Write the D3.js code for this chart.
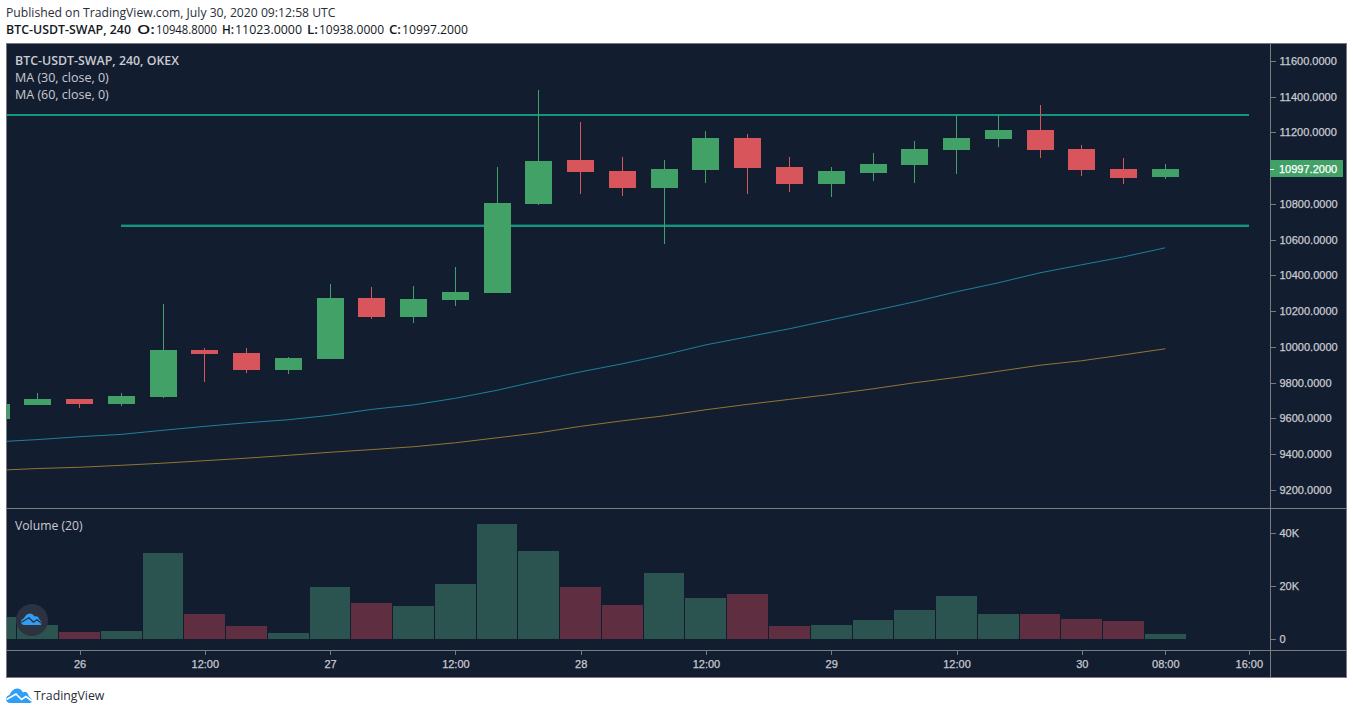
<!DOCTYPE html>
<html><head><meta charset="utf-8">
<script src="https://cdn.jsdelivr.net/npm/d3@7"></script>
<style>
html,body{margin:0;padding:0;background:#fff;overflow:hidden}
text{font-family:"Liberation Sans",Arial,sans-serif}
.ui{font-family:"Open Sans",sans-serif}
</style></head><body>
<script>
// ---- data ----
const open_ = [9597,9675,9709,9681,9720,9983,9966,9871,9933,10274,10168,10263,10302,10800,11046,10985,10889,10990,11169,11007,10912,10973,11018,11102,11164,11214,11108,10996,10948.8];
const high_ = [9681,9743,9709,9743,10241,9994,9994,9944,10352,10336,10341,10448,11007,11438,11259,11063,11046,11208,11192,11063,11007,11085,11152,11298,11298,11354,11130,11057,11023];
const low_  = [9597,9675,9659,9670,9711,9804,9855,9849,9933,10157,10134,10229,10302,10794,10856,10845,10576,10917,10856,10867,10839,10929,10917,10968,11119,11057,10957,10912,10938];
const close_= [9681,9709,9681,9726,9983,9961,9871,9938,10274,10168,10268,10308,10806,11041,10979,10889,10996,11169,11001,10912,10985,11024,11108,11169,11214,11102,10990,10945,10997.2];
const volume= [8300,5300,2640,3000,32450,9430,4900,2260,19600,13600,12450,20750,43400,33200,19600,12800,24900,15470,17000,4900,5300,7170,10940,16200,9430,9430,7550,6800,1890];
const ma30  = [9468,9481,9497,9510,9533,9555,9575,9592,9617,9650,9675,9712,9757,9810,9860,9905,9955,10011,10056,10101,10151,10201,10252,10308,10358,10414,10459,10503,10554];
const ma60  = [9309,9319,9326,9337,9349,9363,9377,9393,9410,9425,9441,9463,9491,9519,9555,9586,9614,9648,9678,9706,9734,9765,9799,9829,9863,9897,9922,9955,9989];
const priceTicks = [9200,9400,9600,9800,10000,10200,10400,10600,10800,11200,11400,11600];
const volumeTicks = [0,20000,40000];
const timeTickBars = [2,5,8,11,14,17,20,23,26,28,30];
const timeTickLabels = ["26","12:00","27","12:00","28","12:00","29","12:00","30","08:00","16:00"];
const levelLines = [{price:11298,from:0,to:30,halo:false},{price:10678,from:3,to:30,halo:true}];
const lastPrice = 10997.2;
const headerLine1 = "Published on TradingView.com, July 30, 2020 09:12:58 UTC";
const headerTitle = "BTC-USDT-SWAP, 240";
const legendLines = ["BTC-USDT-SWAP, 240, OKEX","MA (30, close, 0)","MA (60, close, 0)"];

// ---- style ----
const BG="#131d30",FRAME="#787b80",TXT="#c9cbd0",UP="#41a166",DOWN="#d8555b",UPV="#2b5451",DOWNV="#5f2f41",LEVEL="#13967d";

const svg=d3.select("body").append("svg").attr("width",1353).attr("height",714).style("display","block");
const L=7,R=1270,RR=1346,T=44,SEP=508,AX=650,B=677;
svg.append("rect").attr("x",L-.5).attr("y",T-.5).attr("width",RR-L+1).attr("height",B-T+1).attr("fill",BG).attr("stroke",FRAME);

const x=d3.scaleLinear().domain([0,28]).range([-3.96,1165.32]);
const y=d3.scaleLinear().domain([9200,11600]).range([489.8,60.8]);
const yv=d3.scaleLinear().domain([0,40000]).range([639,533]);

const defs=svg.append("defs");
defs.append("clipPath").attr("id","main").append("rect").attr("x",L).attr("y",T).attr("width",R-L).attr("height",SEP-T);
defs.append("clipPath").attr("id","vol").append("rect").attr("x",L).attr("y",SEP).attr("width",R-L).attr("height",AX-SEP);

// volume
const idx=d3.range(close_.length);
const isUp=i=>close_[i]>=open_[i];
const vLeft=i=>Math.floor(x(i)-20);
svg.append("g").attr("clip-path","url(#vol)").attr("shape-rendering","crispEdges")
 .selectAll("rect").data(idx).join("rect")
 .attr("x",vLeft).attr("width",i=>vLeft(i+1)-vLeft(i)-1)
 .attr("y",i=>Math.round(yv(volume[i]))).attr("height",i=>639-Math.round(yv(volume[i])))
 .attr("fill",i=>isUp(i)?UPV:DOWNV);

const main=svg.append("g").attr("clip-path","url(#main)");
// MAs
const lineGen=d3.line().x((d,i)=>x(i)).y(d=>y(d));
main.append("path").attr("d",lineGen(ma30)).attr("fill","none").attr("stroke","#1f7f9b").attr("stroke-width",1);
main.append("path").attr("d",lineGen(ma60)).attr("fill","none").attr("stroke","#8f7632").attr("stroke-width",1);
// level lines
main.selectAll(".halo").data(levelLines.filter(d=>d.halo)).join("line").attr("class","halo")
 .attr("x1",d=>x(d.from)).attr("x2",d=>x(d.to)).attr("y1",d=>Math.round(y(d.price))-1.5).attr("y2",d=>Math.round(y(d.price))-1.5)
 .attr("stroke",LEVEL).attr("stroke-opacity",.4).attr("stroke-width",1).attr("shape-rendering","crispEdges");
main.selectAll(".lvl").data(levelLines).join("line").attr("class","lvl")
 .attr("x1",d=>x(d.from)).attr("x2",d=>x(d.to)).attr("y1",d=>Math.round(y(d.price))).attr("y2",d=>Math.round(y(d.price)))
 .attr("stroke",LEVEL).attr("stroke-width",2).attr("shape-rendering","crispEdges");
// candles
const cg=main.append("g").attr("shape-rendering","crispEdges");
cg.selectAll(".w").data(idx).join("rect").attr("class","w")
 .attr("x",i=>Math.floor(x(i))).attr("width",1)
 .attr("y",i=>Math.round(y(high_[i]))).attr("height",i=>Math.round(y(low_[i]))-Math.round(y(high_[i])))
 .attr("fill",i=>isUp(i)?UP:DOWN);
cg.selectAll(".b").data(idx).join("rect").attr("class","b")
 .attr("x",i=>Math.floor(x(i))-13).attr("width",27)
 .attr("y",i=>Math.round(y(Math.max(open_[i],close_[i]))))
 .attr("height",i=>Math.max(1,Math.round(y(Math.min(open_[i],close_[i])))-Math.round(y(Math.max(open_[i],close_[i])))))
 .attr("fill",i=>isUp(i)?UP:DOWN);

// frame lines
[[R+.5,T,R+.5,B],[L,SEP+.5,RR,SEP+.5],[L,AX+.5,RR,AX+.5]].forEach(l=>
 svg.append("line").attr("x1",l[0]).attr("y1",l[1]).attr("x2",l[2]).attr("y2",l[3]).attr("stroke",FRAME));

function styleAxis(g){
  g.select(".domain").remove();
  g.selectAll("line").attr("stroke",FRAME).attr("shape-rendering","crispEdges");
  g.selectAll("text").attr("fill",TXT).style("font-size","11px").style("font-family",'"Liberation Sans",Arial,sans-serif')
   .attr("stroke",TXT).attr("stroke-width",.25);
}
// price axis
svg.append("g").attr("transform",`translate(${R+.5},0)`)
 .call(d3.axisRight(y).tickValues(priceTicks).tickSize(5).tickPadding(4).tickFormat(d=>d.toFixed(4))).call(styleAxis);
// volume axis
svg.append("g").attr("transform",`translate(${R+.5},0)`)
 .call(d3.axisRight(yv).tickValues(volumeTicks).tickSize(5).tickPadding(4).tickFormat(d=>d?d/1000+"K":"0")).call(styleAxis);
// time axis
svg.append("g").attr("transform",`translate(0,${AX+.5})`)
 .call(d3.axisBottom(x).tickValues(timeTickBars).tickSize(4).tickPadding(6).tickFormat(d=>timeTickLabels[timeTickBars.indexOf(d)])).call(styleAxis);

// last price tag
const ly=169;
svg.append("rect").attr("x",R).attr("y",ly-9).attr("width",73).attr("height",17).attr("fill",UP).attr("shape-rendering","crispEdges");
svg.append("rect").attr("x",R).attr("y",ly).attr("width",4).attr("height",1).attr("fill","#fff").attr("shape-rendering","crispEdges");
svg.append("text").attr("x",1279).attr("y",ly+4).attr("fill","#fff").attr("font-size",11).attr("stroke","#fff").attr("stroke-width",.25).text(lastPrice.toFixed(4));

// header
const ink="#131722";
function hText(t,xp,w,bold){
  svg.append("text").attr("class","ui").attr("x",xp).attr("y",34).attr("font-size",12).attr("fill",ink)
   .attr("font-weight",bold?600:400).attr("textLength",w).attr("lengthAdjust","spacingAndGlyphs").text(t);
}
svg.append("text").attr("class","ui").attr("x",6).attr("y",17).attr("font-size",12.18).attr("fill","#2a2e39").text(headerLine1);
hText(headerTitle,6,125,true);
[["O:",137,open_[28],156],["H:",222,high_[28],235],["L:",307,low_[28],319],["C:",389,close_[28],402]].forEach(h=>{
  hText(h[0],h[1],h[3]-h[1]-1,true);
  hText(h[2].toFixed(4),h[3],h[0]==="H:"?67:(h[0]==="C:"?66:(h[0]==="L:"?65:61)),false);
});

// legends
legendLines.forEach((t,i)=>svg.append("text").attr("class","ui").attr("x",15).attr("y",65+i*17).attr("font-size",i?12.5:12.38)
  .attr("font-weight",i?400:600).attr("fill",TXT).text(t));
svg.append("text").attr("class","ui").attr("x",15).attr("y",530).attr("font-size",12.2).attr("fill",TXT).text("Volume (20)");

// logo
function logo(g,stroke){
  g.append("path").attr("fill","#2e9ef6")
   .attr("d","M4,15 C1.5,15 0,13 0,11 C0,9 1.5,7.5 3.5,7 C5,3.5 7.5,0.5 11,0.5 C14,0.5 16,2.5 17,4.5 C18.5,3.5 21,4 22,6 C22.5,7.5 23,8.5 24,9.5 C25.5,10.5 26,12 26,13 C26,14 25,15 23.5,15 Z");
  g.append("path").attr("fill","none").attr("stroke",stroke).attr("stroke-width",1.6)
   .attr("d","M0.5,11.5 L10,6 L15.5,11.5 L20,8.5 L26,13");
}
svg.append("circle").attr("cx",32).attr("cy",620).attr("r",16).attr("fill","#2d3240");
logo(svg.append("g").attr("transform","translate(21,613) scale(.8)"),"#2d3240");
logo(svg.append("g").attr("transform","translate(6,688)"),"#fff");
svg.append("text").attr("class","ui").attr("x",34).attr("y",700).attr("font-size",12.3).attr("fill","#2a2e39").text("TradingView");
</script>
</body></html>
